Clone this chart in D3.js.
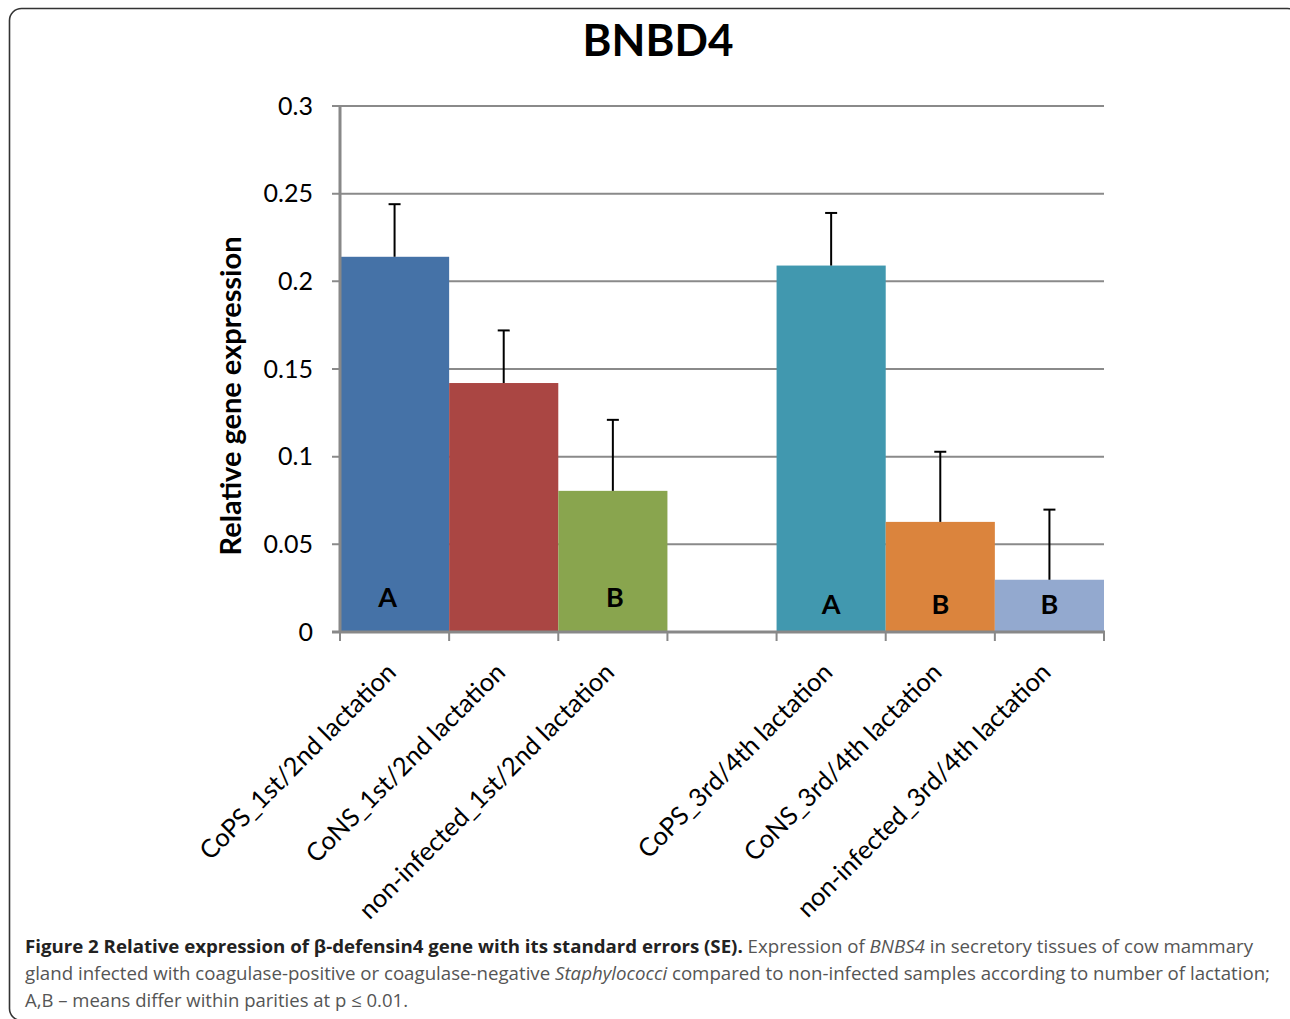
<!DOCTYPE html>
<html><head><meta charset="utf-8">
<script src="https://cdn.jsdelivr.net/npm/d3@7"></script>
<style>body{margin:0;background:#fff}svg{display:block}</style>
</head><body>
<svg id="c" width="1290" height="1019"></svg>
<script>
const categories = ["CoPS_1st/2nd lactation","CoNS_1st/2nd lactation","non-infected_1st/2nd lactation","","CoPS_3rd/4th lactation","CoNS_3rd/4th lactation","non-infected_3rd/4th lactation"];
const values = [0.214, 0.142, 0.0805, null, 0.209, 0.0628, 0.0298];
const errors = [0.030, 0.030, 0.0405, null, 0.030, 0.040, 0.040];
const letters = ["A", "", "B", "", "A", "B", "B"];
const colors = ["#4572A7","#AA4643","#89A54E",null,"#4198AF","#DB843D","#93A9CF"];
const yTicks = [0, 0.05, 0.1, 0.15, 0.2, 0.25, 0.3];
const yTickLabels = ["0","0.05","0.1","0.15","0.2","0.25","0.3"];

const svg = d3.select("#c");
const F = "Lato, 'Open Sans', sans-serif";
const CF = "'Open Sans', 'Noto Sans', sans-serif";

// frame
svg.append("rect").attr("x",9.5).attr("y",8.5).attr("width",1290).attr("height",1012)
  .attr("rx",12).attr("fill","none").attr("stroke","#333").attr("stroke-width",1.6);

const L = 340, R = 1104, T = 106, B = 632;
const x = d3.scaleBand().domain(d3.range(categories.length)).range([L, R]).padding(0);
const y = d3.scaleLinear().domain([0, 0.3]).range([B, T]);

// gridlines
svg.append("g").selectAll("line").data(yTicks.slice(1)).join("line")
  .attr("x1", L-8).attr("x2", R).attr("y1", d=>y(d)).attr("y2", d=>y(d))
  .attr("stroke","#8a8a8a").attr("stroke-width",2);

// y tick labels
svg.append("g").selectAll("text").data(yTicks).join("text")
  .attr("x", 313).attr("y", d=>y(d)).attr("dy","0.35em").attr("text-anchor","end")
  .attr("font-family",F).attr("font-size",25).attr("fill","#000")
  .text((d,i)=>yTickLabels[i]);

// bars
const idx = d3.range(categories.length).filter(i=>values[i]!==null);
svg.append("g").selectAll("rect").data(idx).join("rect")
  .attr("x", i=>x(i)).attr("width", x.bandwidth())
  .attr("y", i=>y(values[i])).attr("height", i=>B - y(values[i]))
  .attr("fill", i=>colors[i]);

// error bars
const eg = svg.append("g").attr("stroke","#000").attr("stroke-width",2);
idx.forEach(i=>{
  const cx = x(i) + x.bandwidth()/2;
  eg.append("line").attr("x1",cx).attr("x2",cx).attr("y1",y(values[i])).attr("y2",y(values[i]+errors[i]));
  eg.append("line").attr("x1",cx-6).attr("x2",cx+6).attr("y1",y(values[i]+errors[i])).attr("y2",y(values[i]+errors[i]));
});

// letters
svg.append("g").selectAll("text").data(idx.filter(i=>letters[i])).join("text")
  .attr("x", i=>x(i)+x.bandwidth()/2 + (i===0?-7:(i===2?2:0)))
  .attr("y", i=> i<3 ? y(0.0195) : y(0.0158))
  .attr("dy","0.35em").attr("text-anchor","middle")
  .attr("font-family",F).attr("font-weight","bold").attr("font-size",27).attr("fill","#000")
  .text(i=>letters[i]);

// axes lines
svg.append("line").attr("x1",L).attr("x2",L).attr("y1",T).attr("y2",B+1).attr("stroke","#888").attr("stroke-width",3);
svg.append("line").attr("x1",L-8).attr("x2",R+1).attr("y1",B).attr("y2",B).attr("stroke","#888").attr("stroke-width",3);
// x ticks
const xt = d3.range(categories.length+1).map(i=> i<categories.length ? x(i) : R);
svg.append("g").selectAll("line").data(xt).join("line")
  .attr("x1",d=>d).attr("x2",d=>d).attr("y1",B).attr("y2",B+9)
  .attr("stroke","#888").attr("stroke-width",2);

// x labels
svg.append("g").selectAll("text").data(idx).join("text")
  .attr("transform", i=>`translate(${x(i)+x.bandwidth()/2+3},${B+42}) rotate(-45)`)
  .attr("text-anchor","end").attr("font-family",F).attr("font-size",25.5).attr("fill","#000")
  .text(i=>categories[i]);

// y title
svg.append("text").attr("transform",`translate(241,396) rotate(-90)`)
  .attr("text-anchor","middle").attr("font-family",F).attr("font-weight","bold").attr("font-size",29)
  .text("Relative gene expression");

// title
svg.append("text").attr("x",658).attr("y",56).attr("text-anchor","middle")
  .attr("font-family",F).attr("font-weight","bold").attr("font-size",44).text("BNBD4");

// caption
const cap = svg.append("g").attr("font-family",CF).attr("font-size",18).attr("fill","#555");
const l1 = cap.append("text").attr("x",25).attr("y",953).attr("textLength",1228).attr("lengthAdjust","spacingAndGlyphs");
l1.append("tspan").attr("font-weight","bold").attr("fill","#222").text("Figure 2 Relative expression of β-defensin4 gene with its standard errors (SE).");
l1.append("tspan").text(" Expression of ");
l1.append("tspan").attr("font-style","italic").text("BNBS4");
l1.append("tspan").text(" in secretory tissues of cow mammary");
const l2 = cap.append("text").attr("x",25).attr("y",980).attr("textLength",1245).attr("lengthAdjust","spacingAndGlyphs");
l2.append("tspan").text("gland infected with coagulase-positive or coagulase-negative ");
l2.append("tspan").attr("font-style","italic").text("Staphylococci");
l2.append("tspan").text(" compared to non-infected samples according to number of lactation;");
cap.append("text").attr("x",25).attr("y",1007).attr("textLength",383).attr("lengthAdjust","spacingAndGlyphs")
  .text("A,B – means differ within parities at p ≤ 0.01.");
</script>
</body></html>
